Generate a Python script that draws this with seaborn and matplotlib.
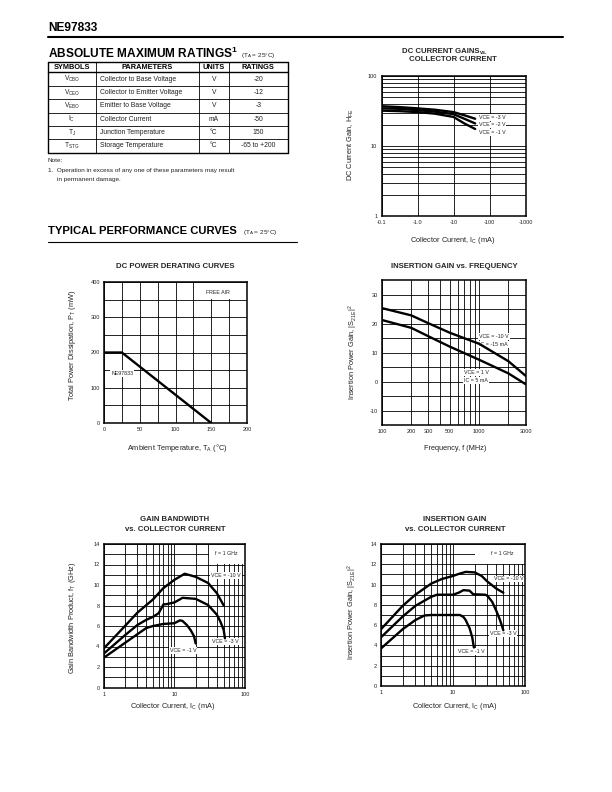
import matplotlib
matplotlib.use('Agg')
import matplotlib.pyplot as plt
from matplotlib.ticker import FixedLocator, NullFormatter, FixedFormatter
from matplotlib.patches import Rectangle
import seaborn as sns

sns.set_theme(style='white')
plt.rcParams['font.family'] = ['Liberation Sans', 'DejaVu Sans']
plt.rcParams['mathtext.fontset'] = 'custom'
plt.rcParams['mathtext.rm'] = 'Liberation Sans'
plt.rcParams['mathtext.it'] = 'Liberation Sans:italic'
plt.rcParams['mathtext.bf'] = 'Liberation Sans:bold'
plt.rcParams['axes.unicode_minus'] = False

# ---- absolute maximum ratings table ----
tbl_header = ['SYMBOLS', 'PARAMETERS', 'UNITS', 'RATINGS']
tbl_symbols = [r'V$_{\rm CBO}$', r'V$_{\rm CEO}$', r'V$_{\rm EBO}$', r'I$_{\rm C}$',
               r'T$_{\rm J}$', r'T$_{\rm STG}$']
tbl_params = ['Collector to Base Voltage', 'Collector to Emitter Voltage',
              'Emitter to Base Voltage', 'Collector Current',
              'Junction Temperature', 'Storage Temperature']
tbl_units = ['V', 'V', 'V', 'mA', '°C', '°C']
tbl_ratings = ['-20', '-12', '-3', '-50', '150', '-65 to +200']

# ---- DC current gain vs collector current ----
hfe_ic = [0.1, 0.3, 1, 3, 10, 20, 40]
hfe_3v = [37, 36, 34.5, 33, 30.5, 27.5, 24.5]
hfe_2v = [34.5, 34, 32.5, 31, 28.5, 24.5, 21]
hfe_1v = [32, 31.5, 30.5, 29, 26, 21, 17.5]
hfe_xticks = [0.1, 1, 10, 100, 1000]
hfe_xlabels = ['-0.1', '-1.0', '-10', '-100', '-1000']

# ---- DC power derating ----
der_temp = [0, 25, 150]
der_power = [200, 200, 0]

# ---- insertion gain vs frequency ----
freq = [100, 200, 300, 500, 1000, 2000, 3000]
ig_10v = [25.3, 22.8, 20.1, 16.8, 13.0, 7.0, 2.0]
ig_1v = [21.2, 18.5, 15.6, 12.0, 7.5, 2.8, -0.9]
freq_ticks = [100, 200, 300, 500, 1000, 3000]
freq_minor = [400, 600, 700, 800, 900, 2000]

# ---- gain bandwidth vs collector current ----
gbw_ic_10 = [1, 2, 3, 5, 7, 10, 14, 20, 30, 40, 50]
gbw_10v = [3.8, 6.0, 7.3, 8.6, 9.7, 10.5, 11.1, 10.8, 10.2, 9.2, 8.0]
gbw_ic_3 = [1, 2, 3, 4, 5, 6, 7, 8, 10, 12, 13, 20, 30, 40, 45, 50, 52]
gbw_3v = [3.3, 5.1, 6.1, 6.6, 6.9, 7.25, 8.1, 8.15, 8.3, 8.6, 8.75, 8.65, 8.05, 7.1, 6.4, 5.6, 4.8]
gbw_ic_1 = [1, 2, 3, 4, 5, 7, 10, 12, 13, 15, 17, 19, 20]
gbw_1v = [2.9, 4.35, 5.2, 5.8, 6.0, 6.2, 6.27, 6.55, 6.5, 6.1, 5.6, 5.0, 4.3]

# ---- insertion gain vs collector current ----
igc_ic_10 = [1, 2, 3, 5, 7, 10, 12, 15, 20, 25, 30, 40, 50]
igc_10v = [5.6, 7.9, 9.0, 10.1, 10.55, 10.85, 11.05, 11.25, 11.2, 10.85, 10.3, 9.6, 9.2]
igc_ic_3 = [1, 2, 3, 5, 6, 10, 12, 14, 17, 19, 28, 30, 35, 40, 45, 50]
igc_3v = [4.8, 6.85, 7.9, 8.8, 9.0, 9.0, 9.2, 9.45, 9.4, 9.05, 9.0, 8.9, 8.3, 7.4, 6.5, 5.5]
igc_ic_1 = [1, 2, 3, 4, 5, 10, 12.5, 14, 15, 17, 18.5, 19.5]
igc_1v = [3.7, 5.6, 6.5, 6.95, 7.0, 7.0, 7.0, 6.8, 6.5, 5.7, 4.8, 3.8]

log_decades = [1, 10, 100]
log_minor = [2, 3, 4, 5, 6, 7, 8, 9, 20, 30, 40, 50, 60, 70, 80, 90]

W, H = 612, 792
fig = plt.figure(figsize=(W / 100, H / 100), dpi=100)
page = fig.add_axes([0, 0, 1, 1])
page.set_xlim(0, W)
page.set_ylim(H, 0)
page.axis('off')

TXT = '#222222'


def chart(l, t, r, b):
    ax = fig.add_axes([l / W, 1 - b / H, (r - l) / W, (b - t) / H])
    ax.set_facecolor('white')
    for s in ax.spines.values():
        s.set_color('black')
        s.set_linewidth(1.1)
    ax.tick_params(which='both', length=0, labelsize=4, pad=3, colors=TXT)
    return ax


def grid(ax):
    ax.grid(which='both', color='black', linewidth=0.6)
    ax.set_axisbelow(True)


def curve(ax, x, y):
    sns.lineplot(x=x, y=y, ax=ax, color='black', linewidth=1.7, zorder=3,
                 estimator=None, sort=False)


def label(ax, x, y, s, ha='left'):
    ax.text(x, y, s, fontsize=3.8, ha=ha, va='center', color=TXT, zorder=2.6,
            bbox=dict(fc='white', ec='none', pad=0.6))


def blank(ax, x0, x1, y0, y1):
    ax.add_patch(Rectangle((x0, y0), x1 - x0, y1 - y0, fc='white', ec='none', zorder=1))


# ---------------- page header ----------------
page.text(48, 28, 'NE97833', fontsize=8.6, fontweight='bold', va='center', color='black')
page.plot([48, 563], [36.7, 36.7], color='black', lw=1.5)
page.text(48, 58.3, r'ABSOLUTE MAXIMUM RATINGS$^{\mathbf{1}}$', fontsize=8.6,
          fontweight='bold', va='baseline', color='black')
page.text(241, 57, r'(T$_{\rm A}$ = 25°C)', fontsize=4.6, va='baseline', color=TXT)

xs = [48, 96, 199, 228.5, 288]
ys = [62, 72.3, 86, 99.3, 112.6, 126, 139.3, 152.6]
for x in xs:
    lw = 1.0 if x in (xs[0], xs[-1]) else 0.6
    page.plot([x, x], [ys[0], ys[-1]], color='black', lw=lw)
for y in ys:
    lw = 1.0 if y in (ys[0], ys[1], ys[-1]) else 0.6
    page.plot([xs[0], xs[-1]], [y, y], color='black', lw=lw)
col_cx = [(xs[i] + xs[i + 1]) / 2 for i in range(4)]
for i, h in enumerate(tbl_header):
    page.text(col_cx[i], (ys[0] + ys[1]) / 2, h, fontsize=5.3, fontweight='bold',
              ha='center', va='center', color='black')
for j in range(len(tbl_params)):
    yc = (ys[j + 1] + ys[j + 2]) / 2
    page.text(col_cx[0], yc, tbl_symbols[j], fontsize=4.8, ha='center', va='center', color=TXT)
    page.text(xs[1] + 3.5, yc, tbl_params[j], fontsize=4.9, ha='left', va='center', color=TXT)
    page.text(col_cx[2], yc, tbl_units[j], fontsize=4.9, ha='center', va='center', color=TXT)
    page.text(col_cx[3], yc, tbl_ratings[j], fontsize=4.9, ha='center', va='center', color=TXT)

page.text(48, 160.7, 'Note:', fontsize=4.6, va='center', color=TXT)
page.text(48, 170.7, '1.  Operation in excess of any one of these parameters may result',
          fontsize=4.6, va='center', color=TXT)
page.text(57, 179.5, 'in permanent damage.', fontsize=4.6, va='center', color=TXT)

page.text(48, 234.5, 'TYPICAL PERFORMANCE CURVES', fontsize=8.1, fontweight='bold',
          va='baseline', color='black')
page.text(243, 234, r'(T$_{\rm A}$ = 25°C)', fontsize=4.6, va='baseline', color=TXT)
page.plot([48, 297], [242.3, 242.3], color='black', lw=0.8)

# ---------------- DC current gain ----------------
ax = chart(381.5, 76, 525.5, 216)
ax.set_xscale('log')
ax.set_yscale('log')
ax.set_xlim(0.1, 1000)
ax.set_ylim(1, 100)
ax.xaxis.set_major_locator(FixedLocator(hfe_xticks))
ax.xaxis.set_major_formatter(FixedFormatter(hfe_xlabels))
ax.xaxis.set_minor_locator(FixedLocator([]))
ax.yaxis.set_major_locator(FixedLocator([1, 10, 100]))
ax.yaxis.set_major_formatter(FixedFormatter(['1', '10', '100']))
ax.yaxis.set_minor_locator(FixedLocator([2, 3, 4, 5, 6, 7, 8, 9, 20, 30, 40, 50, 60, 70, 80, 90]))
ax.yaxis.set_minor_formatter(NullFormatter())
grid(ax)
curve(ax, hfe_ic, hfe_3v)
curve(ax, hfe_ic, hfe_2v)
curve(ax, hfe_ic, hfe_1v)
label(ax, 50, 25.4, 'VCE = -3 V')
label(ax, 50, 20.0, 'VCE = -2 V')
label(ax, 50, 15.7, 'VCE = -1 V')
page.text(440.6, 51.7, 'DC CURRENT GAINS', fontsize=5.6, fontweight='bold', ha='center', va='center')
page.text(484, 52.6, 'vs.', fontsize=4.0, fontweight='bold', ha='center', va='center')
page.text(452.8, 59.3, 'COLLECTOR CURRENT', fontsize=5.6, fontweight='bold', ha='center', va='center')
page.text(351, 145, r'DC Current Gain, H$_{\rm FE}$', fontsize=5.3, rotation=90,
          ha='center', va='center', color=TXT)
page.text(453, 240, r'Collector Current, I$_{\rm C}$ (mA)', fontsize=5.3,
          ha='center', va='center', color=TXT)

# ---------------- DC power derating ----------------
ax = chart(104, 282, 247, 423)
ax.set_xlim(0, 200)
ax.set_ylim(0, 400)
ax.xaxis.set_major_locator(FixedLocator([0, 50, 100, 150, 200]))
ax.xaxis.set_minor_locator(FixedLocator([25, 75, 125, 175]))
ax.yaxis.set_major_locator(FixedLocator([0, 100, 200, 300, 400]))
ax.yaxis.set_minor_locator(FixedLocator([50, 150, 250, 350]))
grid(ax)
blank(ax, 126, 199, 351.5, 398.5)
curve(ax, der_temp, der_power)
label(ax, 160, 371, 'FREE AIR', ha='center')
label(ax, 10, 141, 'NE97833')
page.text(175, 266.7, 'DC POWER DERATING CURVES', fontsize=5.6, fontweight='bold',
          ha='center', va='center')
page.text(72.7, 345, r'Total Power Dissipation, P$_{\rm T}$ (mW)', fontsize=5.3,
          rotation=90, ha='center', va='center', color=TXT)
page.text(177, 448, r'Ambient Temperature, T$_{\rm A}$ (°C)', fontsize=5.3,
          ha='center', va='center', color=TXT)

# ---------------- insertion gain vs frequency ----------------
ax = chart(382, 280, 525.5, 425)
ax.set_xscale('log')
ax.set_xlim(100, 3000)
ax.set_ylim(-15, 35)
ax.xaxis.set_major_locator(FixedLocator(freq_ticks))
ax.xaxis.set_major_formatter(FixedFormatter([str(f) for f in freq_ticks]))
ax.xaxis.set_minor_locator(FixedLocator(freq_minor))
ax.xaxis.set_minor_formatter(NullFormatter())
ax.yaxis.set_major_locator(FixedLocator([-10, 0, 10, 20, 30]))
ax.yaxis.set_minor_locator(FixedLocator([-5, 5, 15, 25]))
grid(ax)
curve(ax, freq, ig_10v)
curve(ax, freq, ig_1v)
label(ax, 1000, 15.4, 'VCE = -10 V')
label(ax, 1000, 12.8, 'IC = -15 mA')
label(ax, 930, 3.0, 'VCE = 1 V', ha='center')
label(ax, 930, 0.4, 'IC = 5 mA', ha='center')
page.text(454, 267, 'INSERTION GAIN vs. FREQUENCY', fontsize=5.6, fontweight='bold',
          ha='center', va='center')
page.text(353, 352, r'Insertion Power Gain, |S$_{\rm 21E}$|$^2$', fontsize=5.3,
          rotation=90, ha='center', va='center', color=TXT)
page.text(455, 448.3, 'Frequency, f (MHz)', fontsize=5.3, ha='center', va='center', color=TXT)


def log_current_axes(ax):
    ax.set_xscale('log')
    ax.set_xlim(1, 100)
    ax.set_ylim(0, 14)
    ax.xaxis.set_major_locator(FixedLocator(log_decades))
    ax.xaxis.set_major_formatter(FixedFormatter([str(v) for v in log_decades]))
    ax.xaxis.set_minor_locator(FixedLocator(log_minor))
    ax.xaxis.set_minor_formatter(NullFormatter())
    ax.yaxis.set_major_locator(FixedLocator(list(range(0, 15, 2))))
    ax.yaxis.set_minor_locator(FixedLocator(list(range(1, 14, 2))))
    grid(ax)


# ---------------- gain bandwidth ----------------
ax = chart(103.7, 544, 245, 687.5)
log_current_axes(ax)
blank(ax, 30.5, 99, 12.06, 13.95)
curve(ax, gbw_ic_10, gbw_10v)
curve(ax, gbw_ic_3, gbw_3v)
curve(ax, gbw_ic_1, gbw_1v)
label(ax, 55, 13.1, 'f = 1 GHz', ha='center')
label(ax, 54, 10.9, 'VCE = -10 V', ha='center')
label(ax, 53, 4.5, 'VCE = -3 V', ha='center')
label(ax, 13.4, 3.6, 'VCE = -1 V', ha='center')
page.text(175, 519.5, 'GAIN BANDWIDTH', fontsize=5.6, fontweight='bold', ha='center', va='center')
page.text(175, 529.5, 'vs. COLLECTOR CURRENT', fontsize=5.6, fontweight='bold', ha='center', va='center')
page.text(72.7, 618, r'Gain Bandwidth Product, f$_{\rm T}$ (GHz)', fontsize=5.3,
          rotation=90, ha='center', va='center', color=TXT)
page.text(173, 706.7, r'Collector Current, I$_{\rm C}$ (mA)', fontsize=5.3,
          ha='center', va='center', color=TXT)

# ---------------- insertion gain vs collector current ----------------
ax = chart(381, 544, 525, 686)
log_current_axes(ax)
blank(ax, 20.3, 99, 12.06, 13.95)
curve(ax, igc_ic_10, igc_10v)
curve(ax, igc_ic_3, igc_3v)
curve(ax, igc_ic_1, igc_1v)
label(ax, 48.7, 13.1, 'f = 1 GHz', ha='center')
label(ax, 58.7, 10.55, 'VCE = -10 V', ha='center')
label(ax, 50, 5.2, 'VCE = -3 V', ha='center')
label(ax, 18.2, 3.4, 'VCE = -1 V', ha='center')
page.text(455, 519.5, 'INSERTION GAIN', fontsize=5.6, fontweight='bold', ha='center', va='center')
page.text(455, 529.5, 'vs. COLLECTOR CURRENT', fontsize=5.6, fontweight='bold', ha='center', va='center')
page.text(352.5, 612, r'Insertion Power Gain, |S$_{\rm 21E}$|$^2$', fontsize=5.3,
          rotation=90, ha='center', va='center', color=TXT)
page.text(455, 706.7, r'Collector Current, I$_{\rm C}$ (mA)', fontsize=5.3,
          ha='center', va='center', color=TXT)

fig.savefig('out.png', dpi=100)
